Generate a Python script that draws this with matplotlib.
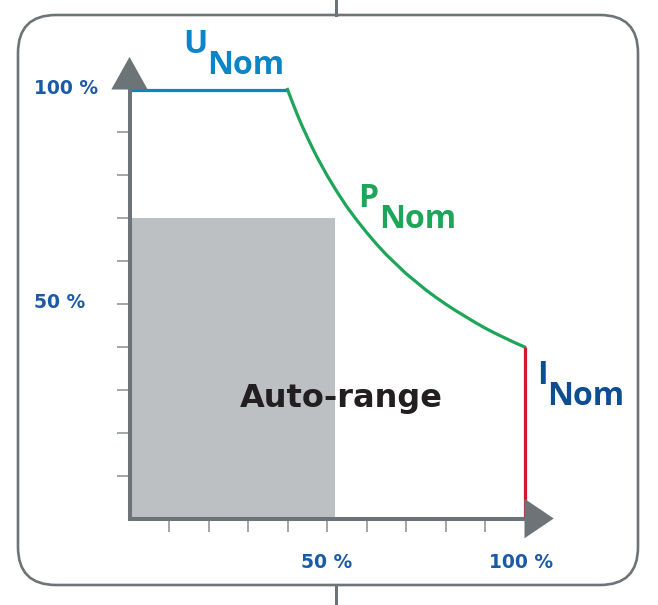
import matplotlib
matplotlib.use("Agg")
import matplotlib.pyplot as plt
from matplotlib.patches import FancyBboxPatch, Polygon, Rectangle

# ---- data (percent of nominal) ----
u_nom_x = [0, 40]
u_nom_y = [100, 100]
p_nom_x = [40, 41.25, 42.5, 43.75, 45, 46.25, 47.5, 48.75, 50, 52.5, 55, 57.5,
           60, 62.5, 65, 67.5, 70, 72.5, 75, 77.5, 80, 82.5, 85, 87.5, 90,
           92.5, 95, 97.5, 100]
p_nom_y = [100, 97, 94.1, 91.4, 88.9, 86.5, 84.2, 82.1, 80, 76.2, 72.7, 69.6,
           66.7, 64, 61.5, 59.3, 57.1, 55.2, 53.3, 51.6, 50, 48.5, 47.1, 45.7,
           44.4, 43.2, 42.1, 41, 40]
i_nom_x = [100, 100]
i_nom_y = [40, 0]
auto_range = (52, 70)          # width, height of the auto-range area
tick_pos = [10, 20, 30, 40, 50, 60, 70, 80, 90]
label_pos = [50, 100]
label_txt = ["50 %", "100 %"]

W, H = 658, 605
FONT = "Open Sans"
FONT2 = "DejaVu Sans"
AX_C = "#6d7478"
TICK_C = "#9a9fa2"
LBL_C = "#1b5aa5"

fig = plt.figure(figsize=(W / 100, H / 100), dpi=100)

# background overlay in pixel coordinates
bg = fig.add_axes([0, 0, 1, 1], zorder=0)
bg.set_xlim(0, W)
bg.set_ylim(H, 0)
bg.axis("off")

frame = FancyBboxPatch((18, 15), 620, 570,
                       boxstyle="round,pad=0,rounding_size=38",
                       fc="white", ec=AX_C, lw=1.9, zorder=0)
bg.add_patch(frame)
bg.plot([336, 336], [0, 15], color=AX_C, lw=2.2, zorder=1)
bg.plot([336, 336], [585, H], color=AX_C, lw=2.2, zorder=1)

# data axes
x0, x1 = 129.5, 524.5
y0, y1 = 518.5, 89.5
ax = fig.add_axes([x0 / W, (H - y0) / H, (x1 - x0) / W, (y0 - y1) / H], zorder=1)
ax.set_xlim(0, 100)
ax.set_ylim(0, 100)
ax.patch.set_alpha(0)
for s in ["top", "right"]:
    ax.spines[s].set_visible(False)
for s in ["left", "bottom"]:
    ax.spines[s].set_color(AX_C)
    ax.spines[s].set_linewidth(2.9)
    ax.spines[s].set_zorder(5)
ax.set_xticks(tick_pos)
ax.set_yticks(tick_pos)
ax.set_xticklabels([])
ax.set_yticklabels([])
ax.tick_params(direction="out", length=9.5, width=1.3, color=TICK_C)

ax.add_patch(Rectangle((0, 0), auto_range[0], auto_range[1],
                       fc="#bcc0c2", ec="none", zorder=1))
ax.plot(u_nom_x, u_nom_y, color="#0b85c7", lw=2.3, zorder=3,
        solid_capstyle="butt", clip_on=False)
ax.plot(p_nom_x, p_nom_y, color="#1fa55a", lw=2.3, zorder=3,
        solid_joinstyle="round", clip_on=False)
ax.plot(i_nom_x, i_nom_y, color="#d7182a", lw=2.3, zorder=3,
        solid_capstyle="butt", clip_on=False)

# arrows
ax.add_patch(Polygon([(-4.6, 100), (4.6, 100), (0, 107.6)], closed=True,
                     fc=AX_C, ec="none", zorder=6, clip_on=False))
ax.add_patch(Polygon([(100, -4.6), (100, 4.6), (107.4, 0)], closed=True,
                     fc=AX_C, ec="none", zorder=6, clip_on=False))

# foreground overlay for text
ov = fig.add_axes([0, 0, 1, 1], zorder=2)
ov.set_xlim(0, W)
ov.set_ylim(H, 0)
ov.axis("off")

# axis labels
for p, t in zip(label_pos, label_txt):
    ov.text(34, y0 - p / 100 * (y0 - y1) - 1.5, t, ha="left", va="center",
            fontsize=13.5, fontweight="bold", family=FONT2, color=LBL_C)
for p, t in zip(label_pos, label_txt):
    ov.text(327 if p == 50 else 521, 562, t,
            ha="center", va="center", fontsize=13.5, fontweight="bold",
            family=FONT2, color=LBL_C)

# curve labels
def sublabel(xm, ym, main, xs, ys, sub, color):
    ov.text(xm, ym, main, ha="left", va="baseline", fontsize=23,
            fontweight="bold", family=FONT, color=color)
    ov.text(xs, ys, sub, ha="left", va="baseline", fontsize=23,
            fontweight="bold", family=FONT, color=color)

sublabel(183, 53, "U", 207, 74, "Nom", "#0b85c7")
sublabel(358, 207, "P", 379, 228, "Nom", "#1fa55a")
sublabel(537, 384, "I", 547, 405, "Nom", "#0d4e93")

ov.text(341, 407, "Auto-range", ha="center", va="baseline", fontsize=23,
        fontweight="bold", family=FONT2, color="#231f20")

fig.savefig("out.png", dpi=100)
